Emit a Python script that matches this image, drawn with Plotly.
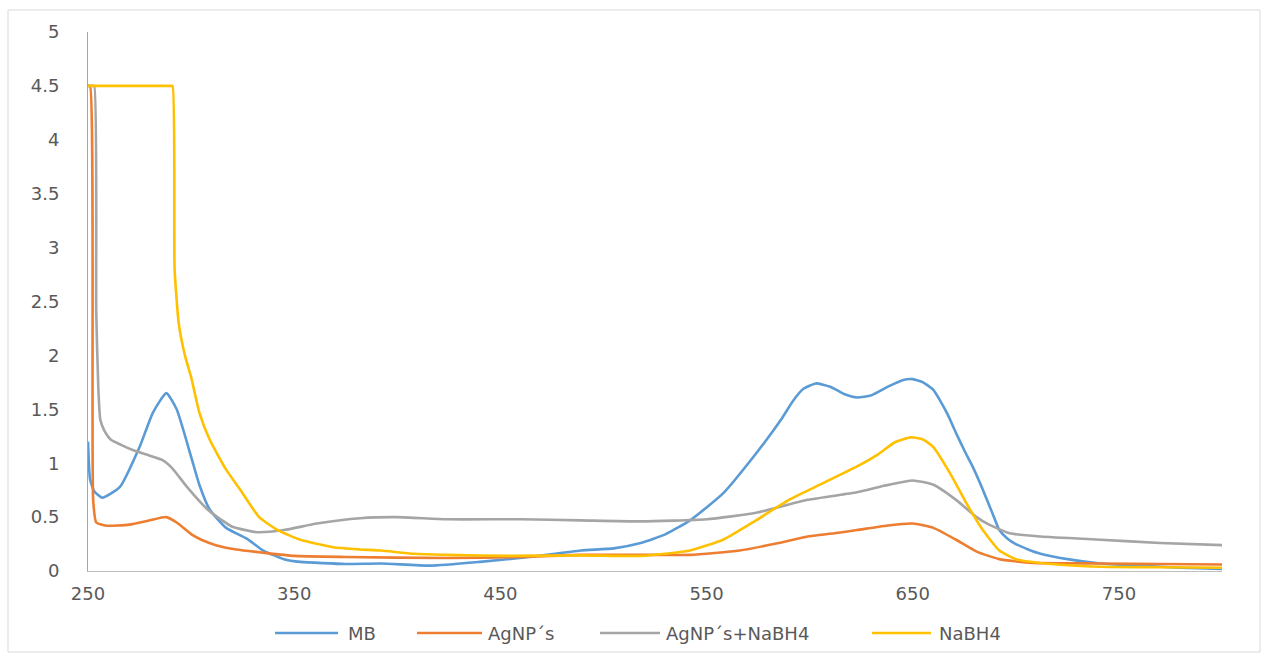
import plotly.graph_objects as go

# Absorbance spectra (wavelength in nm)
mb_nm = [250, 251, 253, 257, 265.5, 275, 281.5, 288, 293, 300, 304, 309, 317, 327, 335, 345, 353,
         375, 392, 416, 440, 464, 489, 505, 518, 530, 542, 558, 574, 586, 592, 597, 603, 610, 617, 623,
         630, 638, 645, 650, 655, 660, 663, 667, 671, 675, 679, 683, 686, 689, 692, 696, 700, 706, 712,
         725, 741, 760, 780, 800]
mb_abs = [1.2, 0.85, 0.74, 0.68, 0.78, 1.15, 1.47, 1.65, 1.5, 1.06, 0.8, 0.57, 0.4, 0.3, 0.19, 0.11, 0.085,
          0.065, 0.07, 0.05, 0.085, 0.13, 0.19, 0.21, 0.26, 0.34, 0.47, 0.72, 1.09, 1.40, 1.58, 1.69, 1.74, 1.71, 1.64, 1.61,
          1.63, 1.71, 1.77, 1.78, 1.75, 1.68, 1.59, 1.45, 1.28, 1.12, 0.97, 0.8, 0.66, 0.52, 0.38, 0.3, 0.25, 0.2, 0.16,
          0.11, 0.07, 0.05, 0.03, 0.02]

ag_nm = [250, 251, 252.5, 254, 259, 270, 280, 288, 293, 301, 305, 312, 322, 335, 350, 375, 424, 460,
         489, 520, 542, 566, 585, 599, 612, 623, 637, 650, 660, 671, 681, 692, 708, 741, 770, 800]
ag_abs = [4.5, 4.5, 0.66, 0.45, 0.42, 0.43, 0.47, 0.5, 0.45, 0.33, 0.29, 0.24, 0.2, 0.17, 0.14, 0.13, 0.12, 0.13,
          0.15, 0.15, 0.15, 0.19, 0.26, 0.32, 0.35, 0.38, 0.42, 0.44, 0.40, 0.29, 0.18, 0.11, 0.075, 0.07, 0.065, 0.06]

agnb_nm = [250, 251, 252, 253, 254, 255, 256, 258, 261, 266, 272, 280, 286, 291, 298, 308, 315, 320, 332,
           345, 361, 382, 400, 424, 460, 489, 518, 550, 574, 599, 623, 636, 650, 660, 671, 681, 687, 697,
           712, 741, 770, 800]
agnb_abs = [4.5, 4.5, 4.5, 4.5, 2.4, 1.7, 1.4, 1.3, 1.22, 1.17, 1.12, 1.07, 1.03, 0.95, 0.78, 0.57, 0.47, 0.41, 0.36,
            0.38, 0.44, 0.49, 0.5, 0.48, 0.48, 0.47, 0.46, 0.48, 0.54, 0.66, 0.73, 0.79, 0.84, 0.80, 0.66, 0.50, 0.43, 0.35,
            0.32, 0.29, 0.26, 0.24]

nb_nm = [250, 260, 270, 280, 285, 289, 290, 291, 292, 294, 297, 300, 304, 309, 317, 324, 333, 342, 353,
         369, 382, 392, 408, 424, 456, 489, 518, 530, 542, 558, 574, 590, 606, 623, 633, 641, 649, 655,
         660, 668, 676, 684, 692, 700, 717, 741, 770, 800]
nb_abs = [4.5, 4.5, 4.5, 4.5, 4.5, 4.5, 4.5, 4.5, 2.8, 2.3, 2.0, 1.8, 1.47, 1.22, 0.94, 0.75, 0.5, 0.38, 0.29,
          0.22, 0.2, 0.19, 0.16, 0.15, 0.14, 0.145, 0.14, 0.16, 0.19, 0.29, 0.47, 0.66, 0.81, 0.97, 1.08, 1.19, 1.24,
          1.22, 1.15, 0.91, 0.63, 0.38, 0.19, 0.11, 0.065, 0.04, 0.035, 0.03]

series = [
    ("MB", mb_nm, mb_abs, "#5B9BD5"),
    ("AgNP´s", ag_nm, ag_abs, "#ED7D31"),
    ("AgNP´s+NaBH4", agnb_nm, agnb_abs, "#A5A5A5"),
    ("NaBH4", nb_nm, nb_abs, "#FFC000"),
]

x_ticks = [250, 350, 450, 550, 650, 750]
y_ticks = [0, 0.5, 1, 1.5, 2, 2.5, 3, 3.5, 4, 4.5, 5]
y_labels = ["0", "0.5", "1", "1.5", "2", "2.5", "3", "3.5", "4", "4.5", "5"]

# Plot-area geometry in pixels (used to place the legend keys)
W, H = 1262, 656
L, R, T, B = 88, 40, 32, 85
PW, PH = W - L - R, H - T - B


def px_to_paper_x(px):
    return (px - L) / PW


def px_to_paper_y(py):
    return (H - B - py) / PH


fig = go.Figure()
for name, xs, ys, color in series:
    fig.add_trace(go.Scatter(
        x=xs, y=ys, name=name, mode="lines", showlegend=False,
        line=dict(color=color, width=2.6, shape="spline", smoothing=0.5),
    ))

font = dict(family="DejaVu Sans, sans-serif", size=18, color="#595959")

fig.update_layout(
    width=W, height=H,
    margin=dict(l=L, r=R, t=T, b=B),
    paper_bgcolor="white", plot_bgcolor="white",
    font=font,
    xaxis=dict(range=[250, 800], tickvals=x_ticks, ticktext=[str(v) for v in x_ticks],
               showgrid=False, zeroline=False, showline=True, linecolor="#BFBFBF", linewidth=1,
               ticks="", ticklabelstandoff=6),
    yaxis=dict(range=[0, 5], tickvals=y_ticks, ticktext=y_labels,
               showgrid=False, zeroline=False, showline=True, linecolor="#A6A6A6", linewidth=1,
               ticks="", ticklabelstandoff=24),
)

# Legend keys: a line sample followed by the series name
legend_y = px_to_paper_y(633)
legend_pos = [(275, 338, 346), (417, 482, 486), (600, 660, 664), (872, 931, 937)]
for (name, _, _, color), (lx0, lx1, tx) in zip(series, legend_pos):
    fig.add_shape(type="line", xref="paper", yref="paper",
                  x0=px_to_paper_x(lx0), x1=px_to_paper_x(lx1), y0=legend_y, y1=legend_y,
                  line=dict(color=color, width=2.6))
    fig.add_annotation(xref="paper", yref="paper", x=px_to_paper_x(tx), y=legend_y,
                       text=name, showarrow=False, xanchor="left", yanchor="middle",
                       font=font)

# Chart-area border
fig.add_shape(type="rect", xref="paper", yref="paper",
              x0=px_to_paper_x(8), x1=px_to_paper_x(1260), y0=px_to_paper_y(652), y1=px_to_paper_y(10),
              line=dict(color="#D9D9D9", width=1), fillcolor="rgba(0,0,0,0)", layer="below")

fig.write_html("out.html")
